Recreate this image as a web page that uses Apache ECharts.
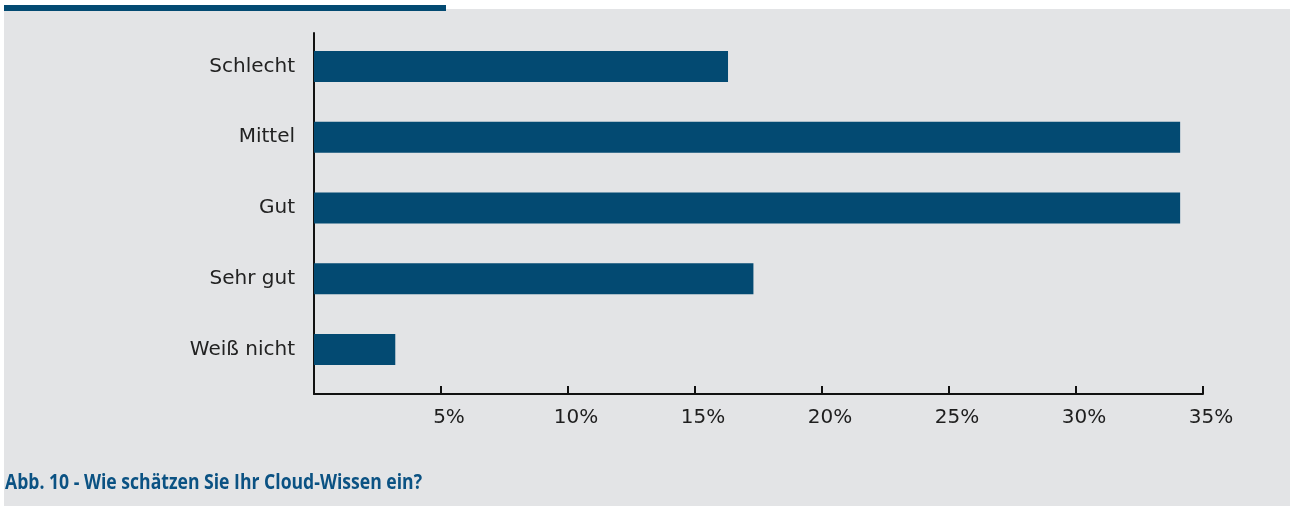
<!DOCTYPE html>
<html>
<head>
<meta charset="utf-8">
<script src="https://cdn.jsdelivr.net/npm/echarts@6/dist/echarts.min.js"></script>
<style>
    html, body { margin: 0; padding: 0; background: #fff; }
    #bg { position: absolute; left: 4px; top: 9px; width: 1286px; height: 497px; background: #e3e4e6; }
    #strip { position: absolute; left: 4px; top: 5px; width: 442px; height: 6px; background: #034a72; }
    #chart { position: absolute; left: 0; top: 0; width: 1293px; height: 506px; }
</style>
</head>
<body>
<div id="bg"></div>
<div id="strip"></div>
<div id="chart"></div>
<script>
var categories = ['Schlecht', 'Mittel', 'Gut', 'Sehr gut', 'Weiß nicht'];
var values = [16.3, 34.1, 34.1, 17.3, 3.2];
var tickLabels = ['', '5%', '10%', '15%', '20%', '25%', '30%', '35%'];
var caption = 'Abb. 10 - Wie schätzen Sie Ihr Cloud-Wissen ein?';

var knowChartObj = {
    myChart : echarts.init(document.getElementById('chart')),
    option : null,
    init : function(){
        var that = this;
        that.render();
    },
    render : function(){
        var that = this;
        that.option = {
            backgroundColor : 'transparent',
            animation : false,
            // caption, squeezed a bit to get close to the narrow original font
            graphic : [
                {
                    type : 'text',
                    left : 5,
                    top : 472,
                    scaleX : 0.8,
                    style : {
                        text : caption,
                        fill : '#0b5283',
                        font : 'bold 22px "Open Sans", sans-serif'
                    }
                }
            ],
            grid : [
                // bars
                { left : 314, width : 889, top : 31, height : 354 },
                // axis frame
                { left : 314, width : 889, top : 33, height : 361 }
            ],
            xAxis : [
                {
                    gridIndex : 0,
                    type : 'value',
                    min : 0,
                    max : 35,
                    show : false
                },
                {
                    gridIndex : 1,
                    type : 'value',
                    min : 0,
                    max : 35,
                    interval : 5,
                    splitLine : { show : false },
                    axisLine : { show : true, lineStyle : { color : '#111', width : 2 } },
                    axisTick : { show : true, inside : true, length : 8, lineStyle : { color : '#111', width : 2 } },
                    axisLabel : {
                        margin : 14,
                        color : '#1e1e1e',
                        fontSize : 20,
                        fontFamily : '"DejaVu Sans", sans-serif',
                        padding : [0, 0, 0, 16],
                        formatter : function(v){
                            return tickLabels[Math.round(v / 5)];
                        }
                    }
                }
            ],
            yAxis : [
                {
                    gridIndex : 0,
                    type : 'category',
                    inverse : true,
                    data : categories,
                    axisLine : { show : false },
                    axisTick : { show : false },
                    axisLabel : {
                        margin : 19,
                        color : '#222',
                        fontSize : 20,
                        fontFamily : '"DejaVu Sans", sans-serif'
                    }
                },
                {
                    gridIndex : 1,
                    type : 'value',
                    min : 0,
                    max : 1,
                    splitLine : { show : false },
                    axisLine : { show : true, lineStyle : { color : '#111', width : 2 } },
                    axisTick : { show : false },
                    axisLabel : { show : false }
                }
            ],
            series : [
                {
                    type : 'bar',
                    xAxisIndex : 0,
                    yAxisIndex : 0,
                    data : values,
                    barWidth : 31,
                    itemStyle : { color : '#034a72' }
                }
            ]
        };
        that.myChart.setOption(that.option);
    }
};
knowChartObj.init();
</script>
</body>
</html>
